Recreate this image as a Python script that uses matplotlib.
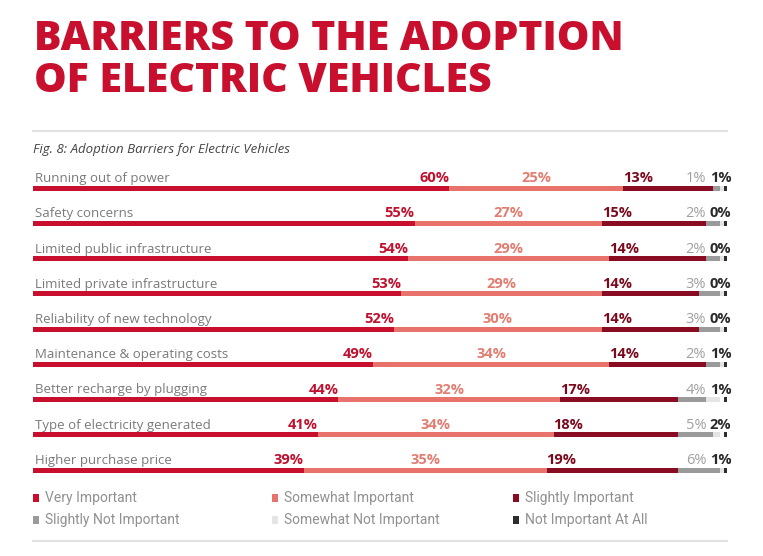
import numpy as np
import matplotlib
matplotlib.use("Agg")
from matplotlib import pyplot as plt

categories = [
    "Running out of power",
    "Safety concerns",
    "Limited public infrastructure",
    "Limited private infrastructure",
    "Reliability of new technology",
    "Maintenance & operating costs",
    "Better recharge by plugging",
    "Type of electricity generated",
    "Higher purchase price",
]
very_important = [60, 55, 54, 53, 52, 49, 44, 41, 39]
somewhat_important = [25, 27, 29, 29, 30, 34, 32, 34, 35]
slightly_important = [13, 15, 14, 14, 14, 14, 17, 18, 19]
slightly_not = [1, 2, 2, 3, 3, 2, 4, 5, 6]
somewhat_not = [1, 1, 1, 1, 1, 1, 2, 1, 1]
not_at_all = [1, 0, 0, 0, 0, 1, 1, 2, 1]

series_names = ["Very Important", "Somewhat Important", "Slightly Important",
                "Slightly Not Important", "Somewhat Not Important", "Not Important At All"]
colors = ["#c8102e", "#e8736c", "#8a0c22", "#9a9a9a", "#e4e4e4", "#2e2e2e"]
label_colors = ["#c0102e", "#e27d72", "#7c0a1e", "#a0a0a0", None, "#2a2a2a"]

W, H = 763, 556
fig = plt.figure(figsize=(W / 100, H / 100), dpi=100)

# title
for txt, base in [("BARRIERS TO THE ADOPTION", 50), ("OF ELECTRIC VEHICLES", 92)]:
    fig.text(34 / W, 1 - base / H, txt, color="#c8102e", fontsize=29.5,
             fontweight="heavy", family="Open Sans", ha="left", va="baseline")

# separator lines
fig.add_artist(plt.Line2D([33 / W, 727 / W], [1 - 131 / H] * 2, color="#e2e2e2", lw=1.5))
fig.add_artist(plt.Line2D([33 / W, 727 / W], [1 - 541 / H] * 2, color="#e2e2e2", lw=1.5))

fig.text(33 / W, 1 - 153 / H, "Fig. 8: Adoption Barriers for Electric Vehicles",
         fontsize=9.5, style="italic", color="#444444", family="Open Sans",
         ha="left", va="baseline")

# bars
row_step = 35.25
top = 188 - row_step / 2
bottom = 470 + row_step / 2
ax = fig.add_axes([33 / W, 1 - bottom / H, 694 / W, (bottom - top) / H])
ax.set_xlim(0, 100)
ax.set_ylim(len(categories) - 0.5, -0.5)
ax.axis("off")

y = np.arange(len(categories))
bar_h = 5 / row_step
data = [very_important, somewhat_important, slightly_important,
        slightly_not, somewhat_not, not_at_all]
left = np.zeros(len(categories))
for k, vals in enumerate(data):
    vals = np.array(vals, dtype=float)
    if k == 5:
        # the last segment is drawn as a small marker at the end of the bar
        ax.barh(y, np.full(len(y), 0.5), left=99.5, height=bar_h,
                color=colors[k], linewidth=0)
    else:
        ax.barh(y, vals, left=left, height=bar_h, color=colors[k], linewidth=0)
    left = left + vals

text_dy = -6 / row_step
pct = dict(fontsize=10.5, family="Open Sans", va="baseline")
for i, cat in enumerate(categories):
    ax.text(0.3, i + text_dy, cat, fontsize=9.5, color="#7a7a7a", family="Open Sans",
            ha="left", va="baseline")
    v1, v2, v3 = very_important[i], somewhat_important[i], slightly_important[i]
    ax.text(v1, i + text_dy, f"{v1}%", fontweight="bold",
            color=label_colors[0], ha="right", **pct)
    ax.text(v1 + v2 / 2, i + text_dy, f"{v2}%", fontweight="bold",
            color=label_colors[1], ha="center", **pct)
    ax.text(v1 + v2, i + text_dy, f"{v3}%", fontweight="bold",
            color=label_colors[2], ha="left", **pct)
    ax.annotate(f"{slightly_not[i]}%", (100, i + text_dy), xytext=(-15, 0),
                textcoords="offset points", color=label_colors[3], ha="right", **pct)
    ax.annotate(f"{not_at_all[i]}%", (100, i + text_dy), xytext=(-12.5, 0),
                textcoords="offset points", fontweight="bold",
                color=label_colors[5], ha="left", **pct)

# legend
leg_x = [33, 272, 513]
leg_y = [498, 520]
for k, name in enumerate(series_names):
    px = leg_x[k % 3]
    py = leg_y[k // 3]
    fig.add_artist(plt.Rectangle((px / W, 1 - (py + 4) / H), 6 / W, 8 / H,
                                 color=colors[k], linewidth=0))
    fig.text((px + 12) / W, 1 - py / H, name, fontsize=10, color="#909090",
             family="Roboto", fontstretch="condensed", ha="left", va="center")

fig.savefig("out.png", dpi=100)
